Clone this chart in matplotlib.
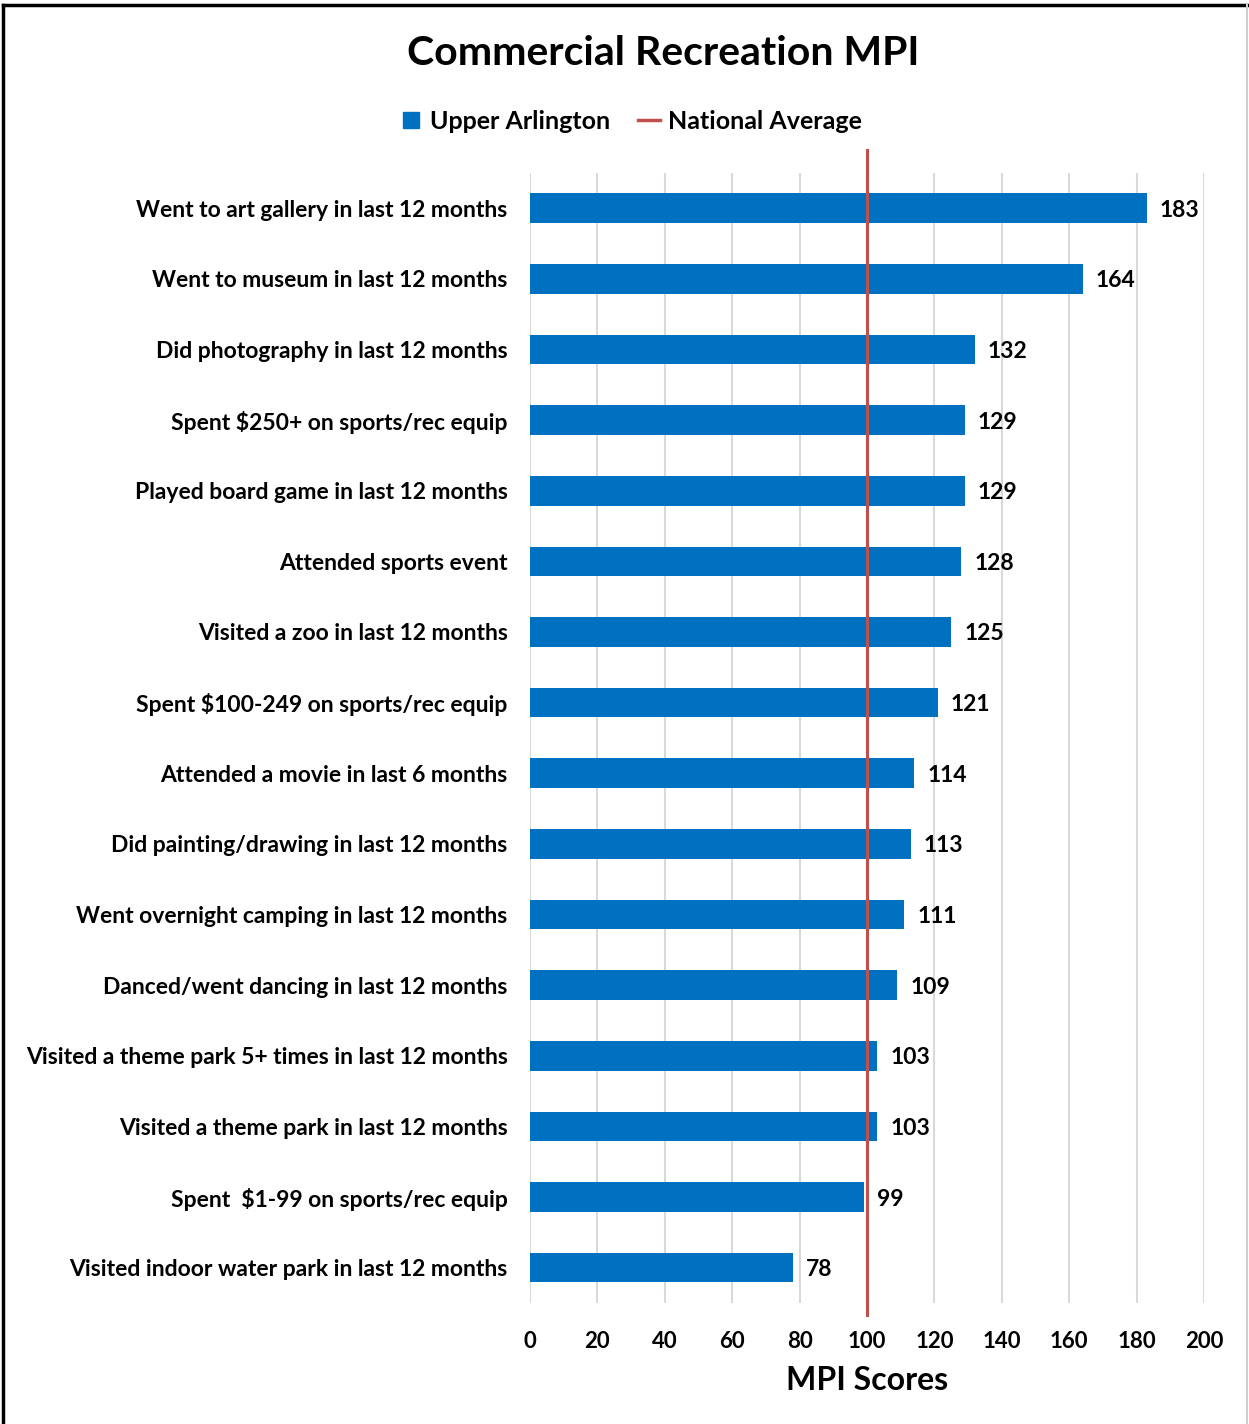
#!/usr/bin/env python3
"""Horizontal bar chart of commercial recreation MPI scores vs the national average."""

import matplotlib.pyplot as plt
from matplotlib.lines import Line2D

plt.rcParams["font.family"] = ["Lato", "DejaVu Sans"]
plt.rcParams["font.weight"] = "bold"

CATEGORIES = [
    "Went to art gallery in last 12 months",
    "Went to museum in last 12 months",
    "Did photography in last 12 months",
    "Spent $250+ on sports/rec equip",
    "Played board game in last 12 months",
    "Attended sports event",
    "Visited a zoo in last 12 months",
    "Spent $100-249 on sports/rec equip",
    "Attended a movie in last 6 months",
    "Did painting/drawing in last 12 months",
    "Went overnight camping in last 12 months",
    "Danced/went dancing in last 12 months",
    "Visited a theme park 5+ times in last 12 months",
    "Visited a theme park in last 12 months",
    "Spent  $1-99 on sports/rec equip",
    "Visited indoor water park in last 12 months",
]
MPI_SCORES = [183, 164, 132, 129, 129, 128, 125, 121, 114, 113, 111, 109, 103, 103, 99, 78]
NATIONAL_AVERAGE = 100
X_TICKS = list(range(0, 201, 20))

BLUE = "#0070C0"
RED = "#C0504D"
GRID = "#D9D9D9"

fig = plt.figure(figsize=(12.49, 14.24), dpi=100)
ax = fig.add_axes([0.4243, 0.085, 0.5397, 0.7936])

positions = list(range(len(CATEGORIES)))
ax.barh(positions, MPI_SCORES, height=0.42, color=BLUE, zorder=2)
for pos, score in zip(positions, MPI_SCORES):
    ax.annotate(
        f"{score}",
        (score, pos),
        xytext=(9.5, 0),
        textcoords="offset points",
        va="center_baseline",
        ha="left",
        fontsize=16.5,
        fontweight="bold",
    )

# national average line runs a little past the plot area on both ends
ax.axvline(
    NATIONAL_AVERAGE,
    ymin=-0.0106,
    ymax=1.0204,
    color=RED,
    linewidth=2.2,
    clip_on=False,
    zorder=3,
)

ax.set_ylim(len(CATEGORIES) - 0.5, -0.5)
ax.set_xlim(0, 200)
ax.set_xticks(X_TICKS)
ax.set_xticklabels([str(t) for t in X_TICKS], fontsize=16, fontweight="bold")
ax.set_yticks(positions)
ax.set_yticklabels(CATEGORIES, fontsize=16.5, fontweight="bold")
ax.tick_params(axis="both", length=0)
ax.tick_params(axis="y", pad=16)
ax.tick_params(axis="x", pad=20)
ax.grid(axis="x", color=GRID, linewidth=1.5, zorder=0)
ax.set_axisbelow(True)
for spine in ax.spines.values():
    spine.set_visible(False)

ax.set_xlabel("MPI Scores", fontsize=23, fontweight="bold", labelpad=10)

fig.text(0.531, 0.9625, "Commercial Recreation MPI", ha="center", va="center",
         fontsize=29.5, fontweight="bold")

handles = [
    Line2D([], [], marker="s", linestyle="none", markersize=11.5, color=BLUE,
           label="Upper Arlington"),
    Line2D([], [], color=RED, linewidth=2.5, label="National Average"),
]
fig.legend(
    handles=handles,
    loc="center",
    bbox_to_anchor=(0.505, 0.915),
    ncol=2,
    frameon=False,
    fontsize=18,
    handlelength=0.9,
    handletextpad=0.3,
    columnspacing=1.1,
)

# outer frame: dark top and left, faint right edge
fig.add_artist(Line2D([0.0028, 0.998], [0.9965, 0.9965], color="black", linewidth=2.5,
                      transform=fig.transFigure))
fig.add_artist(Line2D([0.0028, 0.0028], [0.0, 0.9965], color="black", linewidth=2.5,
                      transform=fig.transFigure))
fig.add_artist(Line2D([0.9985, 0.9985], [0.0, 0.9965], color="#D0D0D0", linewidth=1.5,
                      transform=fig.transFigure))

fig.savefig("out.png", dpi=100)
